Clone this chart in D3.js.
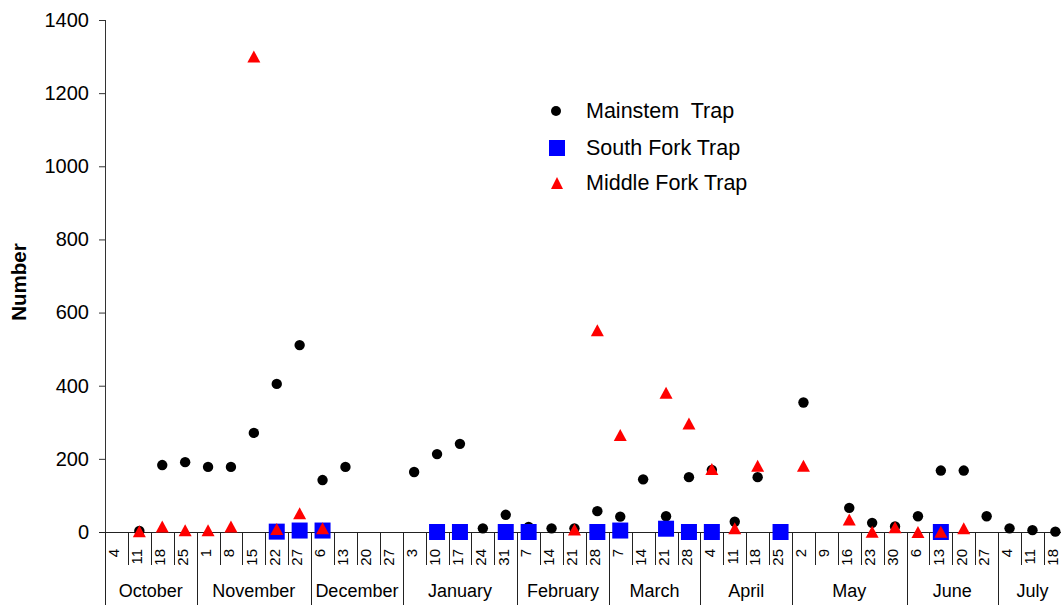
<!DOCTYPE html>
<html>
<head>
<meta charset="utf-8">
<script src="https://cdn.jsdelivr.net/npm/d3@7"></script>
<style>
  html, body { margin: 0; padding: 0; background: #fff; }
  svg { display: block; font-family: "Liberation Sans", Arial, sans-serif; }
</style>
</head>
<body>
<svg id="chart" width="1061" height="605"></svg>
<script>
// Sampling weeks, grouped by month
const months = ["October", "November", "December", "January", "February", "March", "April", "May", "June", "July"];
const monthDays = [
  [4, 11, 18, 25],
  [1, 8, 15, 22, 27],
  [6, 13, 20, 27],
  [3, 10, 17, 24, 31],
  [7, 14, 21, 28],
  [7, 14, 21, 28],
  [4, 11, 18, 25],
  [2, 9, 16, 23, 30],
  [6, 13, 20, 27],
  [4, 11, 18]
];

// Weekly catch per trap (null = no sample)
const mainstem = [
  null, 3, 183, 191,
  178, 178, 271, 405, 511,
  142, 178, null, null,
  164, 213, 241, 10, 47,
  14, 10, 10, 57,
  42, 144, 43, 150,
  170, 28, 150, null,
  354, null, 66, 25, 15,
  43, 168, 168, 43,
  10, 5, 1
];
const southFork = [
  null, null, null, null,
  null, null, null, 1, 4,
  4, null, null, null,
  null, 0, 0, null, 0,
  0, null, null, 0,
  4, null, 9, 0,
  0, null, null, 0,
  null, null, null, null, null,
  null, 0, null, null,
  null, null, null
];
const middleFork = [
  null, 2, 15, 5,
  5, 15, 1300, 8, 51,
  10, null, null, null,
  null, null, null, null, null,
  null, null, 7, 552,
  265, null, 381, 297,
  172, 10, 181, null,
  181, null, 34, 1, 13,
  0, 1, 10, null,
  null, null, null
];
const yTicks = [0, 200, 400, 600, 800, 1000, 1200, 1400];
const seriesNames = ["Mainstem  Trap", "South Fork Trap", "Middle Fork Trap"];

// Build category keys (month + day) and month spans
const categories = [];
const monthSpans = [];
months.forEach((m, mi) => {
  const first = categories.length;
  monthDays[mi].forEach(d => categories.push({ key: m + " " + d, day: d }));
  monthSpans.push({ name: m, first: first, last: categories.length - 1 });
});

const svg = d3.select("#chart");
const x0 = 105, step = 22.9;
const x = d3.scaleBand()
  .domain(categories.map(c => c.key))
  .range([x0, x0 + step * categories.length])
  .padding(0);
const y = d3.scaleLinear().domain([0, 1400]).range([532, 20]);
const axisY = y(0);

// Y axis
const yAxis = d3.axisLeft(y).tickValues(yTicks).tickSize(6).tickPadding(10).tickFormat(d3.format("d"));
const gy = svg.append("g").attr("transform", `translate(${x0},0)`).call(yAxis);
gy.select(".domain").attr("stroke", "#333").attr("d", `M0.5,${y(1400)}V${axisY}`);
gy.selectAll(".tick line").attr("stroke", "#333");
gy.selectAll(".tick text")
  .attr("font-size", 20).attr("fill", "#000")
  .attr("font-family", "Liberation Sans, Arial, sans-serif");

// X axis baseline
svg.append("line")
  .attr("x1", x0 - 6).attr("x2", 1061)
  .attr("y1", axisY + 0.5).attr("y2", axisY + 0.5)
  .attr("stroke", "#222");

// Category separators: short for weeks, full height at month boundaries
const monthStarts = new Set(monthSpans.map(s => s.first));
categories.forEach((c, i) => {
  const xx = Math.round(x(c.key)) + 0.5;
  svg.append("line")
    .attr("x1", xx).attr("x2", xx)
    .attr("y1", axisY).attr("y2", monthStarts.has(i) ? 605 : 565)
    .attr("stroke", "#222");
});

// Week labels (rotated), set slightly left of the cell centre
svg.append("g").selectAll("text")
  .data(categories)
  .join("text")
  .attr("transform", c => `translate(${x(c.key) + x.bandwidth() / 2 - 2.5},549) rotate(-90)`)
  .attr("text-anchor", "end")
  .attr("dy", "0.35em")
  .attr("font-size", 15)
  .text(c => c.day);

// Month labels
svg.append("g").selectAll("text")
  .data(monthSpans)
  .join("text")
  .attr("x", s => (x(categories[s.first].key) + x(categories[s.last].key) + x.bandwidth()) / 2)
  .attr("y", 597)
  .attr("text-anchor", "middle")
  .attr("font-size", 18)
  .text(s => s.name);

// Y axis title
svg.append("text")
  .attr("transform", "translate(26,282) rotate(-90)")
  .attr("text-anchor", "middle")
  .attr("font-size", 20.5)
  .attr("font-weight", "bold")
  .text("Number");

const cx = i => x(categories[i].key) + x.bandwidth() / 2;
const tri = (px, py, w, h) => `M${px},${py - h / 2}L${px + w / 2},${py + h / 2}L${px - w / 2},${py + h / 2}Z`;

// Mainstem trap: black circles
svg.append("g").selectAll("circle")
  .data(mainstem.map((v, i) => ({ v, i })).filter(d => d.v !== null))
  .join("circle")
  .attr("cx", d => cx(d.i)).attr("cy", d => y(d.v))
  .attr("r", 5.2).attr("fill", "#000");

// South Fork trap: blue squares
svg.append("g").selectAll("rect")
  .data(southFork.map((v, i) => ({ v, i })).filter(d => d.v !== null))
  .join("rect")
  .attr("x", d => cx(d.i) - 8).attr("y", d => y(d.v) - 8)
  .attr("width", 16).attr("height", 16)
  .attr("fill", "#0000ff");

// Middle Fork trap: red triangles
svg.append("g").selectAll("path")
  .data(middleFork.map((v, i) => ({ v, i })).filter(d => d.v !== null))
  .join("path")
  .attr("d", d => tri(cx(d.i), y(d.v), 13, 12))
  .attr("fill", "#ff0000");

// Legend
const legend = svg.append("g");
const ly = [111, 148, 183];
legend.append("circle").attr("cx", 556).attr("cy", ly[0]).attr("r", 5).attr("fill", "#000");
legend.append("rect").attr("x", 549).attr("y", ly[1] - 8).attr("width", 16).attr("height", 16).attr("fill", "#0000ff");
legend.append("path").attr("d", tri(557, ly[2], 12, 12)).attr("fill", "#ff0000");
legend.selectAll("text")
  .data(seriesNames)
  .join("text")
  .attr("x", 586)
  .attr("y", (d, i) => ly[i] + 6.5)
  .attr("font-size", 21.5)
  .style("white-space", "pre")
  .text(d => d);
</script>
</body>
</html>
